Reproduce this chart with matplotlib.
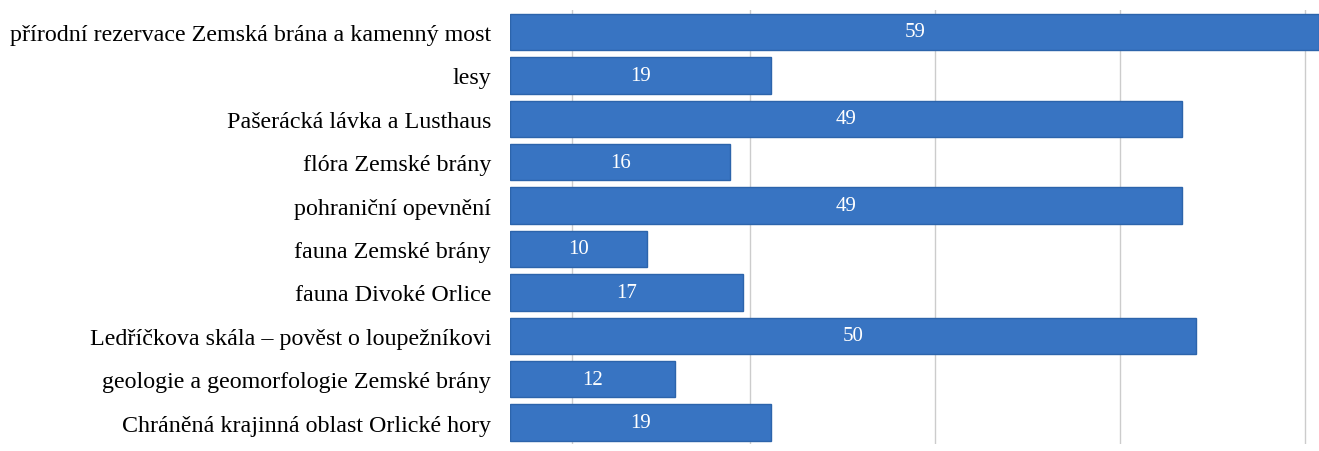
import matplotlib.pyplot as plt

categories = [
    'přírodní rezervace Zemská brána a kamenný most',
    'lesy',
    'Pašerácká lávka a Lusthaus',
    'flóra Zemské brány',
    'pohraniční opevnění',
    'fauna Zemské brány',
    'fauna Divoké Orlice',
    'Ledříčkova skála – pověst o loupežníkovi',
    'geologie a geomorfologie Zemské brány',
    'Chráněná krajinná oblast Orlické hory',
]
values = [59, 19, 49, 16, 49, 10, 17, 50, 12, 19]
grid_ticks = [4.5, 17.5, 31, 44.5, 58]

plt.rcParams['font.family'] = ['Liberation Serif', 'DejaVu Serif']

fig = plt.figure(figsize=(13.19, 4.52), dpi=100)
ax = fig.add_axes([0.387, 0.015, 0.613, 0.96])

pos = list(range(len(categories)))
bars = ax.barh(pos, values, height=0.84, color='#3874c2', edgecolor='#2c64ab',
               linewidth=1.0, zorder=3)
for b, v in zip(bars, values):
    ax.text(b.get_width() / 2, b.get_y() + b.get_height() / 2, str(v),
            ha='center', va='center', color='white', fontsize=15, zorder=4)

ax.set_xlim(0, 59)
ax.set_ylim(len(categories) - 0.5, -0.5)
ax.set_xticks(grid_ticks)
ax.set_xticklabels([])
ax.grid(axis='x', color='#cccccc', linewidth=1.0, zorder=0)
ax.set_yticks(pos)
ax.set_yticklabels(categories, fontsize=17.3)
ax.tick_params(axis='both', length=0, pad=14)
for s in ax.spines.values():
    s.set_visible(False)

fig.savefig('out.png', dpi=100)
